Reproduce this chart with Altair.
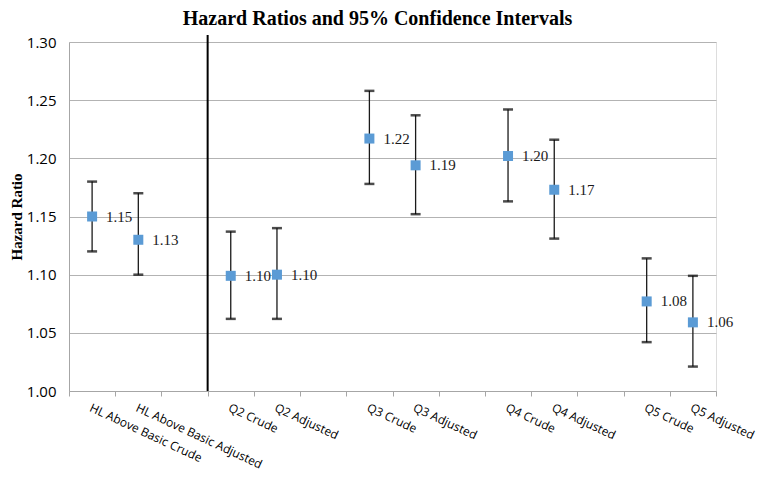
import altair as alt
import pandas as pd

# ---- data -------------------------------------------------------------
categories = ["HL Above Basic Crude", "HL Above Basic Adjusted", " ",
              "Q2 Crude", "Q2 Adjusted", "  ",
              "Q3 Crude", "Q3 Adjusted", "   ",
              "Q4 Crude", "Q4 Adjusted", "    ",
              "Q5 Crude", "Q5 Adjusted"]

labels = ["HL Above Basic Crude", "HL Above Basic Adjusted",
          "Q2 Crude", "Q2 Adjusted", "Q3 Crude", "Q3 Adjusted",
          "Q4 Crude", "Q4 Adjusted", "Q5 Crude", "Q5 Adjusted"]
hr = [1.150, 1.130, 1.099, 1.100, 1.217, 1.194, 1.202, 1.173, 1.077, 1.059]
lower = [1.120, 1.100, 1.062, 1.062, 1.178, 1.152, 1.163, 1.131, 1.042, 1.021]
upper = [1.180, 1.170, 1.137, 1.140, 1.258, 1.237, 1.242, 1.216, 1.114, 1.099]
hr_text = ["1.15", "1.13", "1.10", "1.10", "1.22", "1.19", "1.20", "1.17", "1.08", "1.06"]

separator_after = "Q2 Crude"
separator_y = [1.00, 1.306]

df = pd.DataFrame({"cat": labels, "hr": hr, "lo": lower, "hi": upper, "txt": hr_text})
caps = pd.concat([
    pd.DataFrame({"cat": labels, "v": lower}),
    pd.DataFrame({"cat": labels, "v": upper}),
])
sep = pd.DataFrame({"cat": [separator_after], "y1": [separator_y[0]], "y2": [separator_y[1]]})

# ---- chart ------------------------------------------------------------
xscale = alt.Scale(domain=categories, paddingInner=0, paddingOuter=0)
yscale = alt.Scale(domain=[1.0, 1.3], nice=False, zero=False)

xax = alt.Axis(title=None, labelAngle=25, labelAlign="left", labelBaseline="top",
               labelFont="Open Sans", labelFontSize=12, labelColor="#000000",
               tickBand="extent", tickSize=5, tickColor="#a6a6a6",
               domainColor="#a6a6a6", labelPadding=6, grid=False, labelLimit=300)
yax = alt.Axis(title="Hazard Ratio", values=[1.0, 1.05, 1.1, 1.15, 1.2, 1.25, 1.3],
               format=".2f", labelFont="Open Sans", labelFontSize=15,
               labelColor="#000000", ticks=False, labelPadding=13,
               domainColor="#a6a6a6", gridColor="#b3b3b3", grid=True,
               titleFont="Liberation Serif", titleFontSize=15, titleFontWeight="bold",
               titleColor="#000000", titlePadding=2)

base = alt.Chart(df)

whisk = base.mark_rule(color="#1a1a1a", strokeWidth=1.3).encode(
    x=alt.X("cat:N", scale=xscale, axis=xax, sort=categories),
    y=alt.Y("lo:Q", scale=yscale, axis=yax),
    y2="hi:Q",
)

capmarks = alt.Chart(caps).mark_tick(color="#000000", thickness=2.5, size=10).encode(
    x=alt.X("cat:N", scale=xscale, sort=categories),
    y=alt.Y("v:Q", scale=yscale),
)

pts = base.mark_point(shape="square", filled=True, size=100, color="#5b9bd5", opacity=1).encode(
    x=alt.X("cat:N", scale=xscale, sort=categories),
    y=alt.Y("hr:Q", scale=yscale),
)

txt = base.mark_text(align="left", baseline="middle", dx=14, font="Liberation Serif",
                     fontSize=15, color="#1a1a1a").encode(
    x=alt.X("cat:N", scale=xscale, sort=categories),
    y=alt.Y("hr:Q", scale=yscale),
    text="txt:N",
)

sepline = alt.Chart(sep).mark_rule(color="#000000", strokeWidth=2).encode(
    x=alt.X("cat:N", scale=xscale, sort=categories, bandPosition=0),
    y=alt.Y("y1:Q", scale=yscale),
    y2="y2:Q",
)

chart = alt.layer(whisk, capmarks, sepline, pts, txt).properties(
    width=647, height=349,
    title=alt.TitleParams("Hazard Ratios and 95% Confidence Intervals",
                          font="Liberation Serif", fontSize=20, fontWeight="bold",
                          color="#000000", anchor="middle", offset=5, dx=-15),
    autosize=alt.AutoSizeParams(type="none"),
    padding={"left": 61, "top": 34, "right": 43, "bottom": 82},
).configure_view(stroke=None).configure(background="white")

chart.save("out.html", embed_options={"renderer": "svg", "actions": False})
